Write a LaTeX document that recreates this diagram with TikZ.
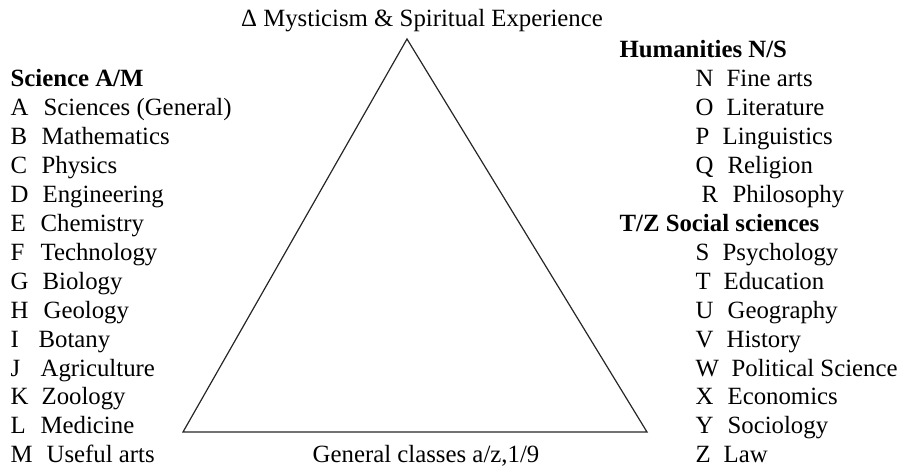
\documentclass[tikz,border=0pt]{standalone}
\usepackage{fontspec}
\setmainfont{Liberation Serif}

\begin{document}
\begin{tikzpicture}[x=1pt,y=-1pt,line width=1.2pt]
 \tikzset{lab/.style={anchor=base west,inner sep=0pt,font=\fontsize{24.8}{29}\selectfont}}
 \useasboundingbox (0,0) rectangle (902,470);
 % triangle
 \coordinate (apex) at (407,39);
 \coordinate (bl) at (183,432);
 \coordinate (br) at (647,432);
 \draw[black!85] (apex)--(br)--(bl)--cycle;
 \node[lab,anchor=base] (top) at (422,27) {Δ Mysticism \& Spiritual Experience};
 \node[lab,anchor=base] (bottom) at (426,{87+28.9*13}) {General classes a/z,1/9};
 % left column
 \node[lab,font=\fontsize{24.8}{29}\selectfont\bfseries] (sci) at (10,87) {Science A/M};
 \foreach \r/\l/\t/\tx in {1/A/Sciences (General)/43,2/B/Mathematics/41,3/C/Physics/41,
   4/D/Engineering/42,5/E/Chemistry/40,6/F/Technology/40,7/G/Biology/42,8/H/Geology/43,
   9/I/Botany/38,10/J/Agriculture/40,11/K/Zoology/41,12/L/Medicine/40,13/M/Useful arts/46}{%
   \node[lab] (sl\l) at (10,{87+28.9*\r}) {\l};
   \node[lab] (st\l) at (\tx,{87+28.9*\r}) {\t};
 }
 % right column
 \node[lab,font=\fontsize{24.8}{29}\selectfont\bfseries] (hum) at (619,58) {Humanities N/S};
 \node[lab,font=\fontsize{24.8}{29}\selectfont\bfseries] (soc) at (619,{87+28.9*5}) {T/Z Social sciences};
 \foreach \r/\l/\lx/\t/\tx in {0/N/695/Fine arts/726,1/O/695/Literature/726,2/P/695/Linguistics/722,
   3/Q/695/Religion/727,4/R/701/Philosophy/732,6/S/695/Psychology/722,7/T/695/Education/723,
   8/U/695/Geography/727,9/V/695/History/726,10/W/695/Political Science/731,
   11/X/695/Economics/727,12/Y/695/Sociology/727,13/Z/695/Law/723}{%
   \node[lab] (rl\l) at (\lx,{87+28.9*\r}) {\l};
   \node[lab] (rt\l) at (\tx,{87+28.9*\r}) {\t};
 }
\end{tikzpicture}
\end{document}
